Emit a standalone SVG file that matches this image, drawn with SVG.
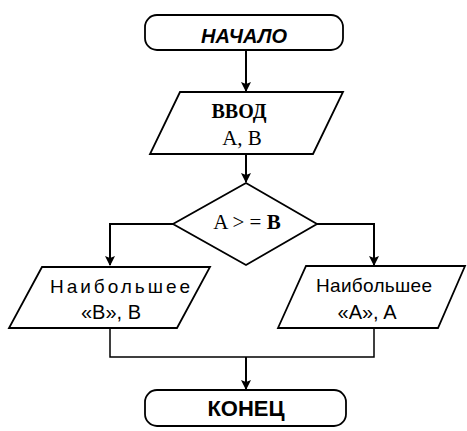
<svg xmlns="http://www.w3.org/2000/svg" width="467" height="431" viewBox="0 0 467 431">
<defs>
<marker id="ah" markerWidth="10" markerHeight="12" refX="9" refY="5" orient="auto" markerUnits="userSpaceOnUse">
<path d="M0,0 L10,5 L0,10 L2,5 Z" fill="#000"/>
</marker>
</defs>
<style>
.shape{fill:#fff;stroke:#000;stroke-width:1.8}
.conn{fill:none;stroke:#000;stroke-width:2}
.thin{fill:none;stroke:#000;stroke-width:1.5}
.sans{font-family:"Liberation Sans",Arial,sans-serif;fill:#000}
.serif{font-family:"Liberation Serif","Times New Roman",serif;fill:#000}
</style>
<rect width="467" height="431" fill="#fff"/>
<g id="connectors">
<line class="conn" x1="246" y1="50" x2="246" y2="91" marker-end="url(#ah)"/>
<line class="conn" x1="246" y1="154" x2="246" y2="182" marker-end="url(#ah)"/>
<polyline class="conn" points="173,224 110,224 110,265" marker-end="url(#ah)"/>
<polyline class="conn" points="317,224 374,224 374,265" marker-end="url(#ah)"/>
<polyline class="thin" points="110,328 110,357 374,357 374,328"/>
<line class="conn" x1="246" y1="357" x2="246" y2="389" marker-end="url(#ah)"/>
</g>
<g id="start">
<rect class="shape" x="145" y="15" width="198" height="35" rx="12"/>
<text class="sans" x="244" y="43" font-size="20" font-weight="bold" font-style="italic" text-anchor="middle">НАЧАЛО</text>
</g>
<g id="input">
<polygon class="shape" points="180,92 343,92 313,154 150,154"/>
<text class="serif" x="239" y="118" font-size="20" font-weight="bold" text-anchor="middle">ВВОД</text>
<text class="serif" x="242" y="145" font-size="21" text-anchor="middle">A, B</text>
</g>
<g id="decision">
<polygon class="shape" points="246,183 317,224 246,265 173,224"/>
<text class="serif" x="247" y="229" font-size="21" text-anchor="middle">A &gt; = <tspan font-weight="bold">B</tspan></text>
</g>
<g id="outB">
<polygon class="shape" points="42,267 210,267 177,328 9,328"/>
<text class="sans" x="50" y="293" font-size="19" textLength="140" lengthAdjust="spacing">Наибольшее</text>
<text class="sans" x="111" y="319" font-size="20" text-anchor="middle">«B», B</text>
</g>
<g id="outA">
<polygon class="shape" points="306,266 465,266 438,328 278,328"/>
<text class="sans" x="316" y="292" font-size="19" textLength="116" lengthAdjust="spacing">Наибольшее</text>
<text class="sans" x="367" y="319" font-size="20" text-anchor="middle">«A», A</text>
</g>
<g id="end">
<rect class="shape" x="145" y="390" width="201" height="36" rx="12"/>
<text class="sans" x="246" y="416" font-size="22" font-weight="bold" text-anchor="middle">КОНЕЦ</text>
</g>
</svg>
